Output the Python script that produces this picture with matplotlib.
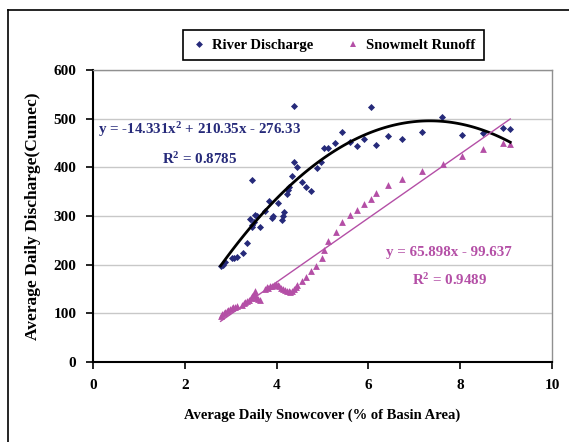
import numpy as np
import matplotlib
matplotlib.use('Agg')
from matplotlib import pyplot as plt
from matplotlib.lines import Line2D

plt.rcParams['mathtext.default'] = 'regular'

# River discharge (Cumec) vs snow cover (%)
river_x = [2.78, 2.83, 2.88, 3.03, 3.07, 3.13, 3.27, 3.35, 3.43, 3.46, 3.46, 3.47,
           3.50, 3.54, 3.58, 3.64, 3.75, 3.84, 3.89, 3.93, 4.04, 4.11, 4.13, 4.16,
           4.23, 4.25, 4.28, 4.33, 4.37, 4.38, 4.45, 4.55, 4.65, 4.75, 4.87, 4.97,
           5.04, 5.12, 5.28, 5.42, 5.59, 5.75, 5.90, 6.06, 6.16, 6.42, 6.73, 7.17,
           7.61, 8.05, 8.49, 8.94, 9.09]
river_y = [197, 200, 205, 214, 214, 216, 225, 244, 294, 374, 277, 281,
           288, 303, 300, 278, 310, 331, 295, 299, 326, 292, 300, 309,
           346, 353, 360, 382, 411, 526, 400, 370, 359, 352, 398, 410,
           440, 440, 451, 473, 453, 443, 458, 525, 445, 464, 459, 473,
           503, 466, 470, 480, 478]

# Snowmelt runoff
snow_x = [2.78, 2.81, 2.85, 2.88, 2.92, 2.95, 2.99, 3.02, 3.06, 3.10, 3.14,
          3.24, 3.28, 3.32, 3.36, 3.40, 3.44, 3.47, 3.50, 3.52, 3.54, 3.56, 3.60, 3.64,
          3.74, 3.78, 3.82, 3.86, 3.90, 3.94, 3.98, 4.02, 4.06, 4.10, 4.14, 4.18,
          4.22, 4.26, 4.30, 4.34, 4.38, 4.42, 4.45, 4.55, 4.65, 4.76, 4.86, 4.98,
          5.04, 5.13, 5.29, 5.42, 5.59, 5.75, 5.90, 6.06, 6.16, 6.42, 6.73, 7.17,
          7.62, 8.05, 8.49, 8.94, 9.09]
snow_y = [95, 98, 100, 103, 105, 107, 109, 111, 112, 114, 116,
          118, 121, 123, 126, 128, 131, 135, 140, 145, 138, 132, 130, 128,
          150, 155, 153, 156, 157, 158, 160, 159, 156, 152, 150, 147,
          146, 145, 144, 146, 150, 155, 158, 167, 175, 186, 197, 213,
          230, 249, 268, 288, 302, 312, 324, 335, 347, 363, 377, 393,
          407, 423, 438, 449, 448]

# trendline coefficients (as printed on chart)
quad_coef = [-14.331, 210.35, -276.33]
lin_coef = [65.898, -99.637]

blue = '#262a7a'
pink = '#b44fa6'
serif = 'Liberation Serif'

fig = plt.figure(figsize=(5.69, 4.42), dpi=100)
ax = fig.add_axes([93/569, 1-362/442, (552-93)/569, (362-70)/442])

ax.scatter(river_x, river_y, marker='D', s=13, color=blue, zorder=3, linewidths=0)
ax.scatter(snow_x, snow_y, marker='^', s=24, color=pink, zorder=3, linewidths=0)

xq = np.linspace(min(river_x), max(river_x), 100)
ax.plot(xq, np.polyval(quad_coef, xq), color='black', lw=2, zorder=4)
xl = np.array([min(snow_x), max(snow_x)])
ax.plot(xl, np.polyval(lin_coef, xl), color=pink, lw=1, zorder=4)

ax.set_xlim(0, 10)
ax.set_ylim(0, 600)
ax.set_xticks(range(0, 11, 2))
ax.set_yticks(range(0, 601, 100))
ax.yaxis.grid(True, color='#c8c8c8', lw=1)
ax.set_axisbelow(True)
for s in ['top', 'right']:
    ax.spines[s].set_color('#909090')
    ax.spines[s].set_linewidth(1)
for s in ['left', 'bottom']:
    ax.spines[s].set_linewidth(1.5)
ax.tick_params(direction='out', length=5, width=1.2, pad=7)
for lab in ax.get_xticklabels() + ax.get_yticklabels():
    lab.set_fontfamily(serif)
    lab.set_fontweight('bold')
    lab.set_fontsize(11)

ax.set_xlabel('Average Daily Snowcover (% of Basin Area)', fontfamily=serif,
              fontweight='bold', fontsize=10.5, labelpad=12)
ax.set_ylabel('Average Daily Discharge(Cumec)', fontfamily=serif,
              fontweight='bold', fontsize=12.5, labelpad=9)

ax.text(0.11, 477, 'y = -14.331x$^2$ + 210.35x - 276.33', color=blue,
        fontfamily=serif, fontweight='bold', fontsize=10.8, va='center')
ax.text(1.5, 417, 'R$^2$ = 0.8785', color=blue, fontfamily=serif,
        fontweight='bold', fontsize=10.8, va='center')
ax.text(6.38, 224, 'y = 65.898x - 99.637', color=pink, fontfamily=serif,
        fontweight='bold', fontsize=10.8, va='center')
ax.text(6.95, 168, 'R$^2$ = 0.9489', color=pink, fontfamily=serif,
        fontweight='bold', fontsize=10.8, va='center')

handles = [Line2D([], [], ls='none', marker='D', ms=3.5, color=blue, mew=0),
           Line2D([], [], ls='none', marker='^', ms=4.5, color=pink, mew=0)]
leg = fig.legend(handles, ['River Discharge', 'Snowmelt Runoff'], loc='center',
                 bbox_to_anchor=((183+484)/2/569, 1-45/442), ncol=2,
                 prop={'family': serif, 'weight': 'bold', 'size': 10.5},
                 fancybox=False, edgecolor='black', framealpha=1,
                 handlelength=1.0, handletextpad=0.4, columnspacing=2.2,
                 borderpad=0.6)
leg.get_frame().set_linewidth(1.2)

# outer chart frame
fig.add_artist(Line2D([8/569, 8/569], [-0.1, 1-10/442], color='black', lw=1.2))
fig.add_artist(Line2D([8/569, 1.1], [1-10/442, 1-10/442], color='black', lw=1.2))

fig.savefig('out.png', dpi=100)
